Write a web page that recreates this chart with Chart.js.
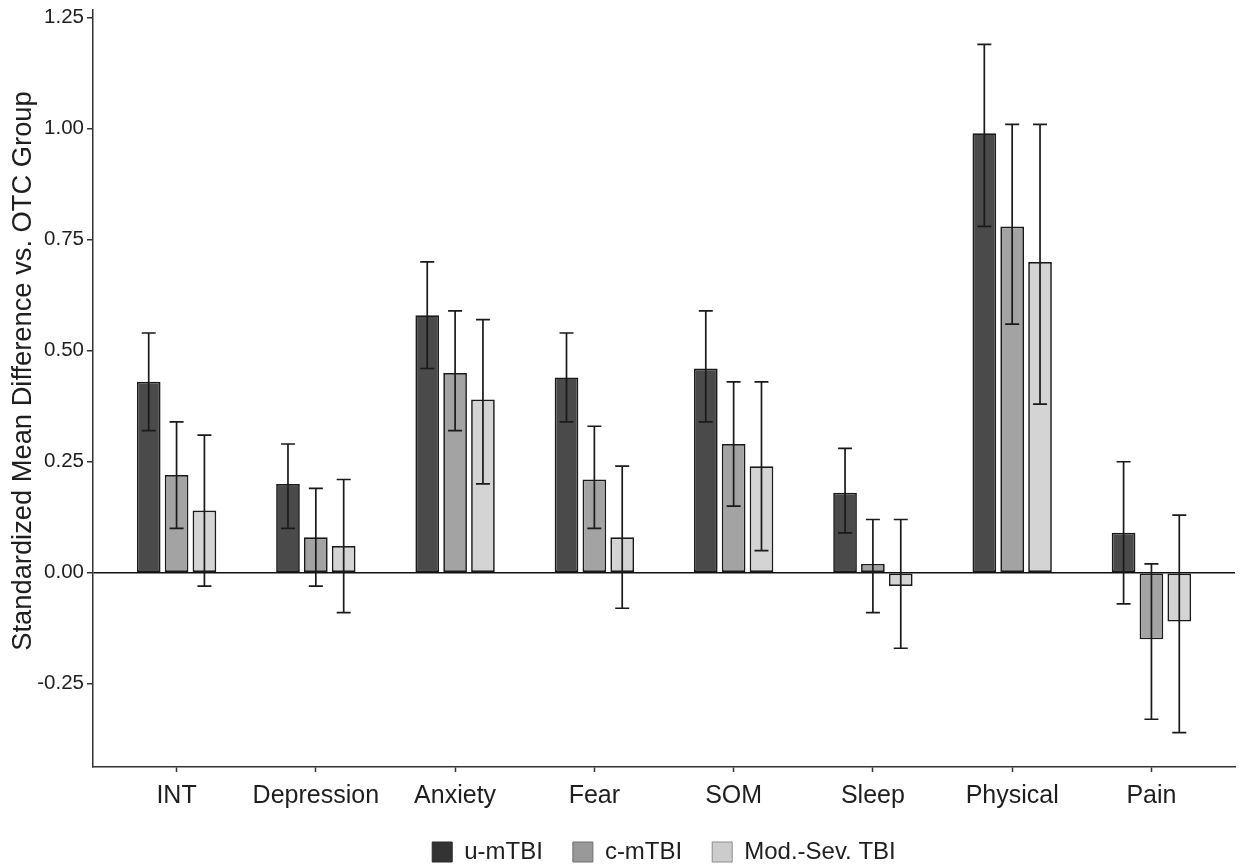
<!DOCTYPE html>
<html>
<head>
<meta charset="utf-8">
<script src="https://cdn.jsdelivr.net/npm/chart.js@4.4.0/dist/chart.umd.min.js"></script>
<style>
  html, body { margin: 0; padding: 0; background: #fff; }
  #wrap { width: 1245px; height: 867px; }
</style>
</head>
<body>
<div id="wrap"><canvas id="smdChart" width="1245" height="867"></canvas></div>
<script>
// categories and groups
const categorias = ['INT', 'Depression', 'Anxiety', 'Fear', 'SOM', 'Sleep', 'Physical', 'Pain'];
const grupos = ['u-mTBI', 'c-mTBI', 'Mod.-Sev. TBI'];

// standardized mean differences vs OTC group
const uMTBI = [0.43, 0.20, 0.58, 0.44, 0.46, 0.18, 0.99, 0.09];
const cMTBI = [0.22, 0.08, 0.45, 0.21, 0.29, 0.02, 0.78, -0.15];
const modSev = [0.14, 0.06, 0.39, 0.08, 0.24, -0.03, 0.70, -0.11];

// confidence intervals
const uLow = [0.32, 0.10, 0.46, 0.34, 0.34, 0.09, 0.78, -0.07];
const uHigh = [0.54, 0.29, 0.70, 0.54, 0.59, 0.28, 1.19, 0.25];
const cLow = [0.10, -0.03, 0.32, 0.10, 0.15, -0.09, 0.56, -0.33];
const cHigh = [0.34, 0.19, 0.59, 0.33, 0.43, 0.12, 1.01, 0.02];
const mLow = [-0.03, -0.09, 0.20, -0.08, 0.05, -0.17, 0.38, -0.36];
const mHigh = [0.31, 0.21, 0.57, 0.24, 0.43, 0.12, 1.01, 0.13];

const yTicks = [-0.25, 0, 0.25, 0.50, 0.75, 1.00, 1.25];

const coresBarra = ['#4a4a4a', '#a3a3a3', '#d4d4d4'];
const coresLegenda = ['#333333', '#999999', '#cccccc'];
const bordasLegenda = ['#2a2a2a', '#6e6e6e', '#8c8c8c'];
const fonte = '"Liberation Sans", Arial, Helvetica, sans-serif';
const corTexto = '#1e1e1e';

const series = [uMTBI, cMTBI, modSev];
const intervalos = [[uLow, uHigh], [cLow, cHigh], [mLow, mHigh]];

// error bars drawn through the scales
const errorBars = {
  id: 'errorBars',
  afterDatasetsDraw(chart) {
    const { ctx } = chart;
    const yScale = chart.scales.y;
    ctx.save();
    ctx.strokeStyle = '#1a1a1a';
    ctx.lineWidth = 1.7;
    chart.data.datasets.forEach((ds, d) => {
      const meta = chart.getDatasetMeta(d);
      const [lo, hi] = intervalos[d];
      meta.data.forEach((bar, i) => {
        const x = bar.x;
        const y1 = yScale.getPixelForValue(lo[i]);
        const y2 = yScale.getPixelForValue(hi[i]);
        const cap = 7;
        ctx.beginPath();
        ctx.moveTo(x, y1); ctx.lineTo(x, y2);
        ctx.moveTo(x - cap, y1); ctx.lineTo(x + cap, y1);
        ctx.moveTo(x - cap, y2); ctx.lineTo(x + cap, y2);
        ctx.stroke();
      });
    });
    ctx.restore();
  }
};

// y axis title placed like the original figure
const tituloY = {
  id: 'tituloY',
  afterDraw(chart) {
    const { ctx } = chart;
    ctx.save();
    ctx.translate(23, 371);
    ctx.rotate(-Math.PI / 2);
    ctx.font = '27.3px ' + fonte;
    ctx.fillStyle = corTexto;
    ctx.textAlign = 'center';
    ctx.textBaseline = 'middle';
    ctx.fillText('Standardized Mean Difference vs. OTC Group', 0, 0);
    ctx.restore();
  }
};

new Chart(document.getElementById('smdChart').getContext('2d'), {
  type: 'bar',
  data: {
    datasets: grupos.map((g, d) => ({
      label: g,
      data: series[d].map((v, i) => ({ x: i, y: v })),
      backgroundColor: coresBarra[d],
      borderColor: '#1a1a1a',
      borderWidth: 1.7,
      borderSkipped: false,
      categoryPercentage: 0.6,
      barPercentage: 0.85
    }))
  },
  options: {
    responsive: false,
    animation: false,
    layout: { padding: { top: 10, right: 10, left: 0, bottom: -7 } },
    plugins: {
      tooltip: { enabled: false },
      legend: {
        position: 'bottom',
        fullSize: false,
        labels: {
          boxWidth: 20,
          boxHeight: 20,
          padding: 30,
          color: corTexto,
          font: { family: fonte, size: 24 },
          generateLabels: (chart) => grupos.map((g, d) => ({
            text: g,
            fillStyle: coresLegenda[d],
            strokeStyle: bordasLegenda[d],
            lineWidth: 1,
            datasetIndex: d,
            fontColor: corTexto
          }))
        }
      }
    },
    scales: {
      x: {
        type: 'linear',
        min: -0.6,
        max: 7.6,
        offset: false,
        afterBuildTicks: (scale) => { scale.ticks = categorias.map((_, i) => ({ value: i })); },
        afterFit: (scale) => { scale.height = 43; },
        ticks: {
          autoSkip: false,
          maxRotation: 0,
          padding: 9,
          color: corTexto,
          font: { family: fonte, size: 25 },
          callback: (v) => categorias[v] ?? ''
        },
        grid: { offset: false, drawOnChartArea: false, tickLength: 5, tickColor: '#333', tickWidth: 1.5 },
        border: { color: '#333', width: 1.5 }
      },
      y: {
        min: -0.4375,
        max: 1.2675,
        afterBuildTicks: (scale) => { scale.ticks = yTicks.map(v => ({ value: v })); },
        afterFit: (scale) => { scale.width = 93; },
        ticks: {
          padding: 3,
          color: corTexto,
          font: { family: fonte, size: 20.5, lineHeight: 0.5 },
          callback: (v) => v.toFixed(2)
        },
        grid: {
          color: (c) => (c.tick && c.tick.value === 0 ? '#111' : 'rgba(0,0,0,0)'),
          lineWidth: 1.5,
          tickColor: '#333',
          tickWidth: 1.5,
          tickLength: 6
        },
        border: { color: '#333', width: 1.5 }
      }
    }
  },
  plugins: [errorBars, tituloY]
});
</script>
</body>
</html>
